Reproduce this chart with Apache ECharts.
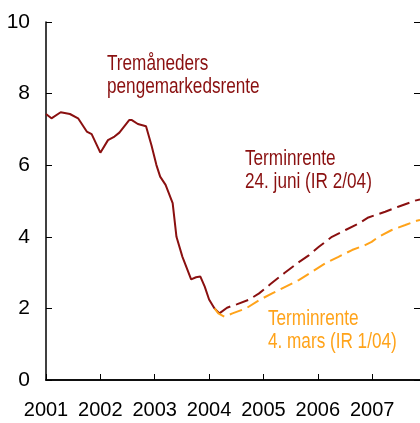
<!DOCTYPE html>
<html>
<head>
<meta charset="utf-8">
<script src="https://cdn.jsdelivr.net/npm/echarts@6/dist/echarts.min.js"></script>
<style>
  html, body { margin: 0; padding: 0; background: #fff; }
  #chart { width: 420px; height: 423px; }
</style>
</head>
<body>
<div id="chart"></div>
<script>
// tremåneders pengemarkedsrente (desimalår, prosent)
var shortRateX = [2001.00, 2001.10, 2001.27, 2001.44, 2001.59, 2001.75, 2001.84, 2002.00, 2002.14, 2002.26,
                  2002.35, 2002.53, 2002.58, 2002.69, 2002.84, 2002.94, 2003.03, 2003.10, 2003.20, 2003.33,
                  2003.40, 2003.51, 2003.67, 2003.76, 2003.84, 2003.92, 2004.00, 2004.10, 2004.19];
var shortRate  = [7.43, 7.31, 7.48, 7.43, 7.31, 6.94, 6.87, 6.35, 6.70, 6.80,
                  6.91, 7.26, 7.26, 7.15, 7.09, 6.56, 6.01, 5.68, 5.45, 4.94,
                  4.00, 3.44, 2.81, 2.87, 2.89, 2.61, 2.25, 2.00, 1.86];

// terminrente 24. juni (IR 2/04)
var fwdJuneX = [2004.19, 2004.33, 2004.52, 2004.73, 2004.92, 2005.13, 2005.38, 2005.62, 2005.84, 2006.02,
                2006.26, 2006.51, 2006.75, 2006.93, 2007.24, 2007.48, 2007.79, 2007.88];
var fwdJune  = [1.86, 2.02, 2.12, 2.24, 2.42, 2.68, 2.98, 3.26, 3.49, 3.72,
                4.00, 4.19, 4.37, 4.54, 4.70, 4.84, 5.01, 5.04];

// terminrente 4. mars (IR 1/04)
var fwdMarchX = [2004.10, 2004.17, 2004.28, 2004.43, 2004.68, 2004.92, 2005.16, 2005.41, 2005.65, 2005.90,
                 2006.14, 2006.38, 2006.63, 2006.87, 2006.99, 2007.12, 2007.36, 2007.61, 2007.82, 2007.88];
var fwdMarch  = [2.00, 1.86, 1.77, 1.86, 2.00, 2.23, 2.42, 2.61, 2.79, 3.03,
                 3.26, 3.44, 3.63, 3.77, 3.86, 4.00, 4.19, 4.33, 4.45, 4.47];

var yearLabels = ['2001', '2002', '2003', '2004', '2005', '2006', '2007'];
var yTicks = [0, 2, 4, 6, 8, 10];

var RED = '#8a1010';
var ORANGE = '#ffa31a';
var FONT = "'Liberation Sans', Arial, sans-serif";
var SQUEEZE = 0.78; // smal skrift som i originalen

function pairs(xs, ys) {
  return xs.map(function (x, i) { return [x, ys[i]]; });
}

function note(text, left, top, color) {
  return {
    type: 'text', left: left, top: top, z: 10,
    scaleX: SQUEEZE,
    style: { text: text, fill: color, fontSize: 22, lineHeight: 23, fontFamily: FONT }
  };
}

var chart = echarts.init(document.getElementById('chart'));

var option = {
  animation: false,
  grid: { left: 46, top: 22, right: -2, bottom: 43, containLabel: false },
  xAxis: [
    {
      type: 'value',
      min: 2001,
      max: 2007.88,
      interval: 1,
      splitLine: { show: false },
      axisLine: { lineStyle: { color: '#000', width: 1.5 } },
      axisTick: { inside: true, length: 6, lineStyle: { color: '#000' } },
      axisLabel: {
        margin: 20,
        color: '#000',
        fontSize: 20,
        fontFamily: FONT,
        showMaxLabel: false,
        formatter: function (v) {
          var s = String(Math.round(v));
          return (Math.abs(v - Math.round(v)) < 1e-6 && yearLabels.indexOf(s) >= 0) ? s : '';
        }
      }
    },
    {
      type: 'value',
      position: 'top',
      min: 2001,
      max: 2007.88,
      splitLine: { show: false },
      axisLine: { lineStyle: { color: '#000', width: 1.5 } },
      axisTick: { show: false },
      axisLabel: { show: false }
    }
  ],
  yAxis: [
    {
      type: 'value',
      min: 0,
      max: 10,
      interval: 2,
      splitLine: { show: false },
      axisLine: { show: true, lineStyle: { color: '#000', width: 1.5 } },
      axisTick: { show: true, inside: true, length: 6, lineStyle: { color: '#000' } },
      axisLabel: {
        margin: 16,
        color: '#000',
        fontSize: 21,
        fontFamily: FONT,
        formatter: function (v) { return yTicks.indexOf(v) >= 0 ? String(v) : ''; }
      }
    },
    {
      type: 'value',
      position: 'right',
      min: 0,
      max: 10,
      interval: 2,
      splitLine: { show: false },
      axisLine: { show: false },
      axisTick: { show: true, inside: true, length: 6, lineStyle: { color: '#000' } },
      axisLabel: { show: false }
    }
  ],
  series: [
    {
      name: 'Tremåneders pengemarkedsrente',
      type: 'line',
      data: pairs(shortRateX, shortRate),
      showSymbol: false,
      lineStyle: { color: RED, width: 2 },
      z: 2
    },
    {
      name: 'Terminrente 24. juni (IR 2/04)',
      type: 'line',
      data: pairs(fwdJuneX, fwdJune),
      showSymbol: false,
      lineStyle: { color: RED, width: 2, type: [13, 6] },
      z: 3
    },
    {
      name: 'Terminrente 4. mars (IR 1/04)',
      type: 'line',
      data: pairs(fwdMarchX, fwdMarch),
      showSymbol: false,
      lineStyle: { color: ORANGE, width: 2, type: [13, 6] },
      z: 4
    }
  ],
  graphic: [
    note('Tremåneders\npengemarkedsrente', 107, 52, RED),
    note('Terminrente\n24. juni (IR 2/04)', 245, 147, RED),
    note('Terminrente\n4. mars (IR 1/04)', 268, 307, ORANGE)
  ]
};

chart.setOption(option);
</script>
</body>
</html>
